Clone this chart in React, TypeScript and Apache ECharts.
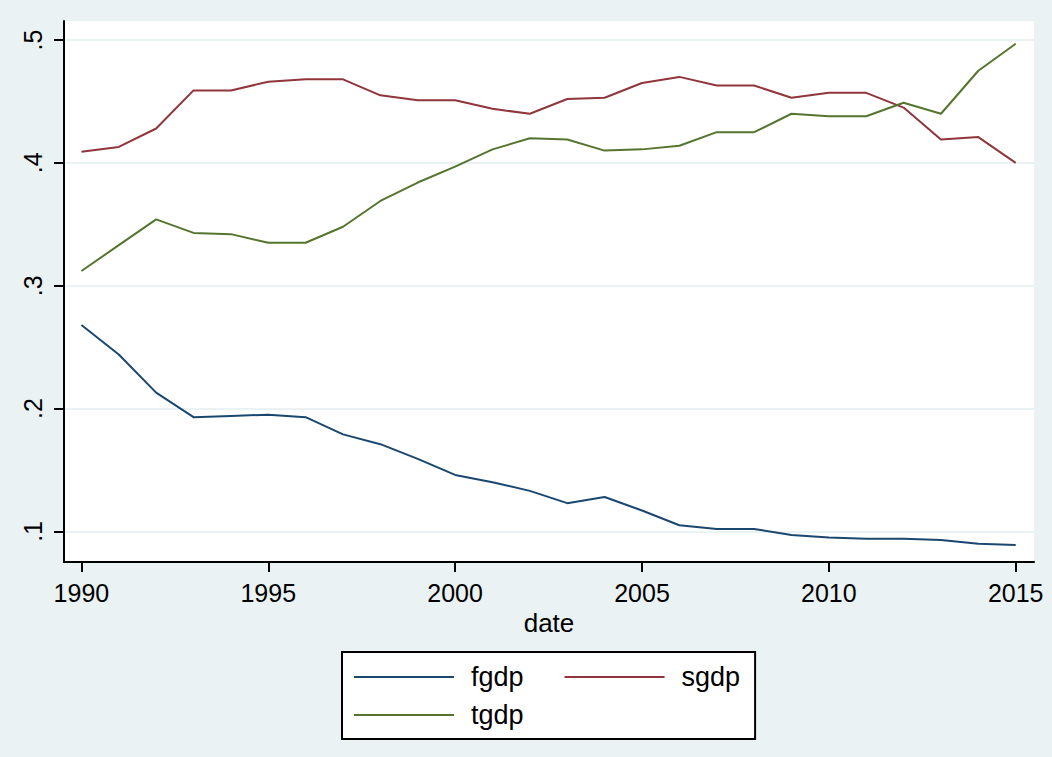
import React, { useEffect, useRef } from "react";
import * as echarts from "echarts";

const years = [1990, 1991, 1992, 1993, 1994, 1995, 1996, 1997, 1998, 1999, 2000, 2001, 2002, 2003, 2004, 2005, 2006, 2007, 2008, 2009, 2010, 2011, 2012, 2013, 2014, 2015];
const fgdp = [0.268, 0.244, 0.213, 0.193, 0.194, 0.195, 0.193, 0.179, 0.171, 0.159, 0.146, 0.140, 0.133, 0.123, 0.128, 0.117, 0.105, 0.102, 0.102, 0.097, 0.095, 0.094, 0.094, 0.093, 0.090, 0.089];
const sgdp = [0.409, 0.413, 0.428, 0.459, 0.459, 0.466, 0.468, 0.468, 0.455, 0.451, 0.451, 0.444, 0.440, 0.452, 0.453, 0.465, 0.470, 0.463, 0.463, 0.453, 0.457, 0.457, 0.445, 0.419, 0.421, 0.400];
const tgdp = [0.312, 0.333, 0.354, 0.343, 0.342, 0.335, 0.335, 0.348, 0.369, 0.384, 0.397, 0.411, 0.420, 0.419, 0.410, 0.411, 0.414, 0.425, 0.425, 0.440, 0.438, 0.438, 0.449, 0.440, 0.475, 0.497];
const xTicks = [1990, 1995, 2000, 2005, 2010, 2015];
const yTicks = [0.1, 0.2, 0.3, 0.4, 0.5];

const FONT = "'Liberation Sans', Arial, sans-serif";
const BG = "#eaf2f3";

export default function App() {
  const ref = useRef<HTMLDivElement>(null);
  useEffect(() => {
    if (!ref.current) return;
    const chart = echarts.init(ref.current, undefined, { renderer: "svg" });
    const pairs = (vals: number[]) => years.map((y, i) => [y, vals[i]]);
    const legendText = { fontSize: 27, fontFamily: FONT, color: "#000", padding: [0, 0, 0, 12], lineHeight: 30 };
    chart.setOption({
      animation: false,
      backgroundColor: BG,
      grid: {
        left: 64, right: 18, top: 21, bottom: 195,
        show: true, backgroundColor: "#fff", borderWidth: 0,
      },
      xAxis: {
        type: "value",
        min: 1989.534,
        max: 2015.49,
        name: "date",
        nameLocation: "middle",
        nameGap: 45,
        nameTextStyle: { fontSize: 26, fontFamily: FONT, color: "#000" },
        axisLine: { show: true, onZero: false, lineStyle: { color: "#000", width: 2 } },
        axisTick: { show: true, length: 10, customValues: xTicks, lineStyle: { color: "#000", width: 2 } },
        axisLabel: { customValues: xTicks, fontSize: 25, fontFamily: FONT, color: "#000", margin: 18, formatter: (v: number) => String(v) },
        splitLine: { show: false },
      },
      yAxis: {
        type: "value",
        min: 0.0751,
        max: 0.5155,
        axisLine: { show: true, onZero: false, lineStyle: { color: "#000", width: 2 } },
        axisTick: { show: true, length: 10, customValues: yTicks, lineStyle: { color: "#000", width: 2 } },
        axisLabel: {
          customValues: yTicks, rotate: 90, fontSize: 25, fontFamily: FONT, color: "#000", margin: 19,
          formatter: (v: number) => v.toFixed(1).replace(/^0/, ""),
        },
        splitLine: { show: true, lineStyle: { color: BG, width: 2 } },
      },
      legend: [
        {
          data: ["fgdp", "sgdp"],
          left: 342, top: 652,
          orient: "horizontal",
          icon: "rect", itemWidth: 100, itemHeight: 2, itemGap: 41,
          padding: [10, 15, 47, 12],
          backgroundColor: "#fff", borderColor: "#000", borderWidth: 2, borderRadius: 0,
          textStyle: legendText,
        },
        {
          data: ["tgdp"],
          left: 342, top: 700,
          orient: "horizontal",
          icon: "rect", itemWidth: 100, itemHeight: 2,
          padding: [0, 0, 0, 12],
          textStyle: legendText,
        },
      ],
      series: [
        { name: "fgdp", type: "line", data: pairs(fgdp), showSymbol: false, color: "#1a476f", lineStyle: { width: 2, color: "#1a476f" } },
        { name: "sgdp", type: "line", data: pairs(sgdp), showSymbol: false, color: "#90353b", lineStyle: { width: 2, color: "#90353b" } },
        { name: "tgdp", type: "line", data: pairs(tgdp), showSymbol: false, color: "#55752f", lineStyle: { width: 2, color: "#55752f" } },
      ],
    });
    return () => chart.dispose();
  }, []);
  return <div ref={ref} style={{ position: "fixed", left: 0, top: 0, width: 1052, height: 757 }} />;
}
